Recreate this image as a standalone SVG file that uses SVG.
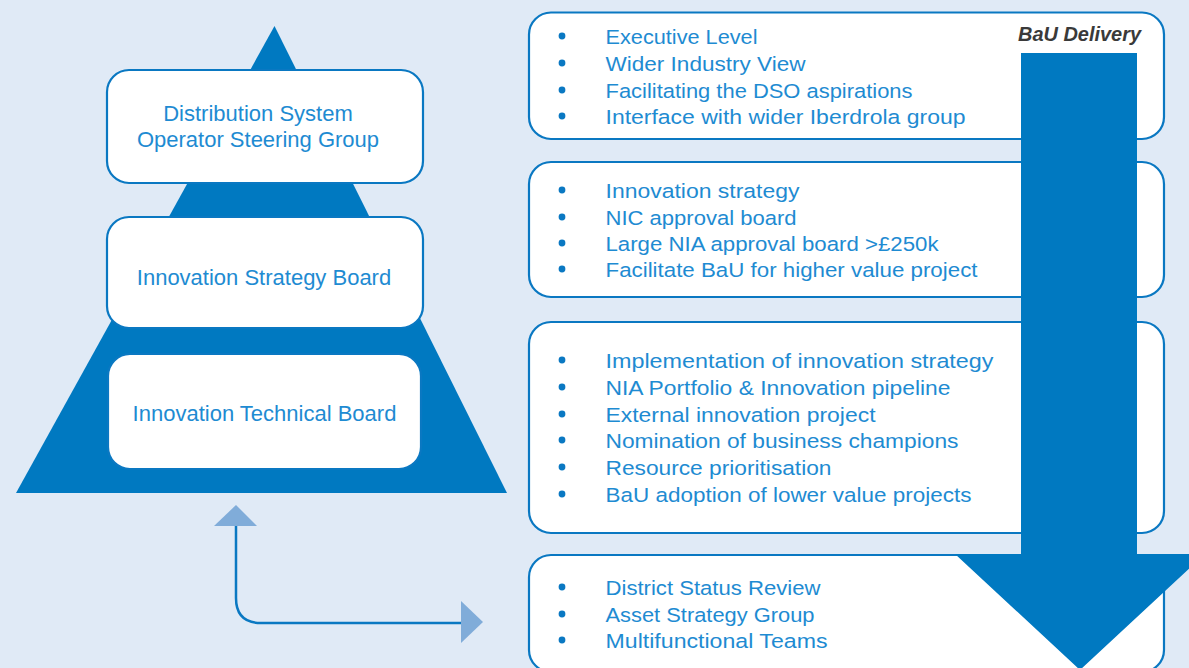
<svg xmlns="http://www.w3.org/2000/svg" width="1189" height="668" viewBox="0 0 1189 668">
  <style>
    .bg { fill: #e0eaf6; }
    .pyr { fill: #0079c1; }
    .box { fill: #ffffff; stroke: #0a78c2; stroke-width: 2.2; }
    .lbl { font-family: "Liberation Sans", Arial, sans-serif; font-size: 22px; fill: #1e8bd2; text-anchor: middle; }
    .item { font-family: "Liberation Sans", Arial, sans-serif; font-size: 20.5px; fill: #1e8bd2; }
    .dot { fill: #0a78c2; }
    .big { fill: #0079c1; }
    .bau { font-family: "Liberation Sans", Arial, sans-serif; font-size: 19.5px; font-style: italic; font-weight: bold; fill: #3a3a3a; }
    .conn { fill: none; stroke: #0a78c2; stroke-width: 2.5; }
    .head { fill: #80acd9; }
  </style>
  <rect class="bg" x="0" y="0" width="1189" height="668"/>

  <g id="pyramid">
    <polygon class="pyr" points="274.5,26 507,493 16,493"/>
  </g>

  <g id="node-dso-steering-group">
    <rect class="box" x="107" y="70" width="316" height="113" rx="22" ry="22"/>
    <text class="lbl" x="258" y="121">Distribution System</text>
    <text class="lbl" x="258" y="147">Operator Steering Group</text>
  </g>

  <g id="node-innovation-strategy-board">
    <rect class="box" x="107" y="217" width="316" height="111" rx="22" ry="22"/>
    <text class="lbl" x="264" y="285">Innovation Strategy Board</text>
  </g>

  <g id="node-innovation-technical-board">
    <rect class="box" x="108" y="354" width="313" height="115" rx="22" ry="22"/>
    <text class="lbl" x="264.5" y="421">Innovation Technical Board</text>
  </g>

  <g id="node-list-executive">
    <rect class="box" x="529" y="12.5" width="635" height="126.5" rx="22" ry="22"/>
    <circle class="dot" cx="562" cy="36" r="3.4"/>
    <circle class="dot" cx="562" cy="63" r="3.4"/>
    <circle class="dot" cx="562" cy="90" r="3.4"/>
    <circle class="dot" cx="562" cy="116" r="3.4"/>
    <text class="item" x="605.5" y="44" textLength="152" lengthAdjust="spacingAndGlyphs">Executive Level</text>
    <text class="item" x="605.5" y="71" textLength="200" lengthAdjust="spacingAndGlyphs">Wider Industry View</text>
    <text class="item" x="605.5" y="98" textLength="307" lengthAdjust="spacingAndGlyphs">Facilitating the DSO aspirations</text>
    <text class="item" x="605.5" y="124" textLength="360" lengthAdjust="spacingAndGlyphs">Interface with wider Iberdrola group</text>
  </g>

  <g id="node-list-strategy">
    <rect class="box" x="529" y="162" width="635" height="135" rx="22" ry="22"/>
    <circle class="dot" cx="562" cy="190" r="3.4"/>
    <circle class="dot" cx="562" cy="217" r="3.4"/>
    <circle class="dot" cx="562" cy="243" r="3.4"/>
    <circle class="dot" cx="562" cy="269" r="3.4"/>
    <text class="item" x="605.5" y="198" textLength="194" lengthAdjust="spacingAndGlyphs">Innovation strategy</text>
    <text class="item" x="605.5" y="225" textLength="191" lengthAdjust="spacingAndGlyphs">NIC approval board</text>
    <text class="item" x="605.5" y="251" textLength="333" lengthAdjust="spacingAndGlyphs">Large NIA approval board &gt;£250k</text>
    <text class="item" x="605.5" y="277" textLength="372" lengthAdjust="spacingAndGlyphs">Facilitate BaU for higher value project</text>
  </g>

  <g id="node-list-technical">
    <rect class="box" x="529" y="322" width="635" height="211" rx="22" ry="22"/>
    <circle class="dot" cx="562" cy="360" r="3.4"/>
    <circle class="dot" cx="562" cy="387" r="3.4"/>
    <circle class="dot" cx="562" cy="414" r="3.4"/>
    <circle class="dot" cx="562" cy="440" r="3.4"/>
    <circle class="dot" cx="562" cy="467" r="3.4"/>
    <circle class="dot" cx="562" cy="494" r="3.4"/>
    <text class="item" x="605.5" y="368" textLength="388" lengthAdjust="spacingAndGlyphs">Implementation of innovation strategy</text>
    <text class="item" x="605.5" y="395" textLength="345" lengthAdjust="spacingAndGlyphs">NIA Portfolio &amp; Innovation pipeline</text>
    <text class="item" x="605.5" y="422" textLength="270" lengthAdjust="spacingAndGlyphs">External innovation project</text>
    <text class="item" x="605.5" y="448" textLength="353" lengthAdjust="spacingAndGlyphs">Nomination of business champions</text>
    <text class="item" x="605.5" y="475" textLength="226" lengthAdjust="spacingAndGlyphs">Resource prioritisation</text>
    <text class="item" x="605.5" y="502" textLength="366" lengthAdjust="spacingAndGlyphs">BaU adoption of lower value projects</text>
  </g>

  <g id="node-list-bau">
    <rect class="box" x="529" y="555" width="635" height="117" rx="22" ry="22"/>
    <circle class="dot" cx="562" cy="587" r="3.4"/>
    <circle class="dot" cx="562" cy="614" r="3.4"/>
    <circle class="dot" cx="562" cy="640" r="3.4"/>
    <text class="item" x="605.5" y="595" textLength="215" lengthAdjust="spacingAndGlyphs">District Status Review</text>
    <text class="item" x="605.5" y="622" textLength="209" lengthAdjust="spacingAndGlyphs">Asset Strategy Group</text>
    <text class="item" x="605.5" y="648" textLength="222" lengthAdjust="spacingAndGlyphs">Multifunctional Teams</text>
  </g>

  <g id="bau-delivery-arrow">
    <polygon class="big" points="1021,53 1137,53 1137,554 1205,554 1080,670 955,554 1021,554"/>
    <text class="bau" x="1018" y="41" textLength="123" lengthAdjust="spacingAndGlyphs">BaU Delivery</text>
  </g>

  <g id="connectors">
    <path class="conn" d="M236,524 V598 Q236,623 261,623 H463"/>
    <polygon class="head" points="214,526 257,526 236,505"/>
    <polygon class="head" points="461,601 461,643 483,622"/>
  </g>
</svg>
